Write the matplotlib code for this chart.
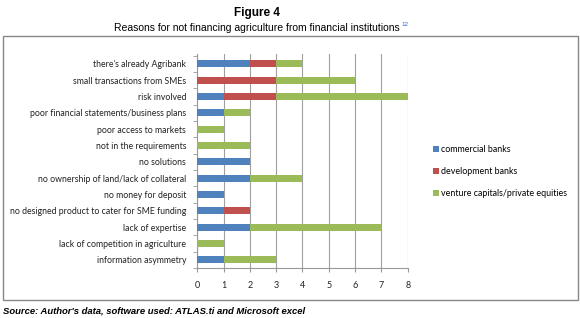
from matplotlib import pyplot as plt
from matplotlib.patches import Rectangle
import numpy as np

# data, top row first
reasons = ["there's already Agribank", "small transactions from SMEs", "risk involved",
           "poor financial statements/business plans", "poor access to markets",
           "not in the requirements", "no solutions",
           "no ownership of land/lack of collateral", "no money for deposit",
           "no designed product to cater for SME funding", "lack of expertise",
           "lack of competition in agriculture", "information asymmetry"]
commercial = [2, 0, 1, 1, 0, 0, 2, 2, 1, 1, 2, 0, 1]
development = [1, 3, 2, 0, 0, 0, 0, 0, 0, 1, 0, 0, 0]
venture = [1, 3, 5, 1, 1, 2, 0, 2, 0, 0, 5, 1, 2]

fig = plt.figure(figsize=(5.8, 3.18), dpi=100)
ax = fig.add_axes([0.34, 0.157, 0.363, 0.673])

y = np.arange(len(reasons))
c = np.array(commercial)
d = np.array(development)
v = np.array(venture)
h = 0.42
ax.barh(y, c, height=h, color="#4F81BD", label="commercial banks", zorder=3)
ax.barh(y, d, height=h, left=c, color="#C0504D", label="development banks", zorder=3)
ax.barh(y, v, height=h, left=c + d, color="#9BBB59",
        label="venture capitals/private equities", zorder=3)

ax.set_ylim(12.36, -0.6)
ax.set_xlim(0, 8)
ax.set_xticks(range(9))
ax.set_yticks(y)
ax.set_yticklabels(reasons)
ax.set_yticks(np.arange(-0.5, 13, 1), minor=True)
ax.tick_params(axis="y", which="major", length=0, pad=8, labelsize=6.3, labelcolor="#222222")
ax.tick_params(axis="y", which="minor", length=3, color="#999999")
ax.tick_params(axis="x", length=3, color="#999999", labelsize=6.5, labelcolor="#222222", pad=6)
for lab in ax.get_yticklabels() + ax.get_xticklabels():
    lab.set_family("Lato")
ax.grid(axis="x", color="#a0a0a0", linewidth=0.8, zorder=0)
for s in ["top", "right"]:
    ax.spines[s].set_visible(False)
for s in ["left", "bottom"]:
    ax.spines[s].set_color("#999999")

leg = ax.legend(loc="center left", bbox_to_anchor=(1.08, 0.45), frameon=False,
                prop={"family": "Lato", "size": 6.4}, handlelength=0.7, handleheight=0.7,
                handletextpad=0.3, labelspacing=1.45)

fig.patches.append(Rectangle((3/580, 1-300/318), 575/580, 264/318, transform=fig.transFigure,
                             fill=False, edgecolor="#888888", linewidth=1))

fig.text(257/580, 1-13/318, "Figure 4", ha="center", va="center", family="Liberation Sans",
         weight="bold", size=8.5)
t = fig.text(257/580, 1-28/318, "Reasons for not financing agriculture from financial institutions",
             ha="center", va="center", family="Liberation Sans", size=7.5)
fig.canvas.draw()
bb = t.get_window_extent()
fig.text(bb.x1 / fig.bbox.width + 0.003, 1-24/318, "12", color="#3366dd",
         family="Liberation Sans", size=4.5, ha="left", va="center")
fig.text(3/580, 1-311/318, "Source: Author's data, software used: ATLAS.ti and Microsoft excel",
         ha="left", va="center", family="Liberation Sans", style="italic", weight="bold", size=6.8)

fig.savefig("out.png", dpi=100)
